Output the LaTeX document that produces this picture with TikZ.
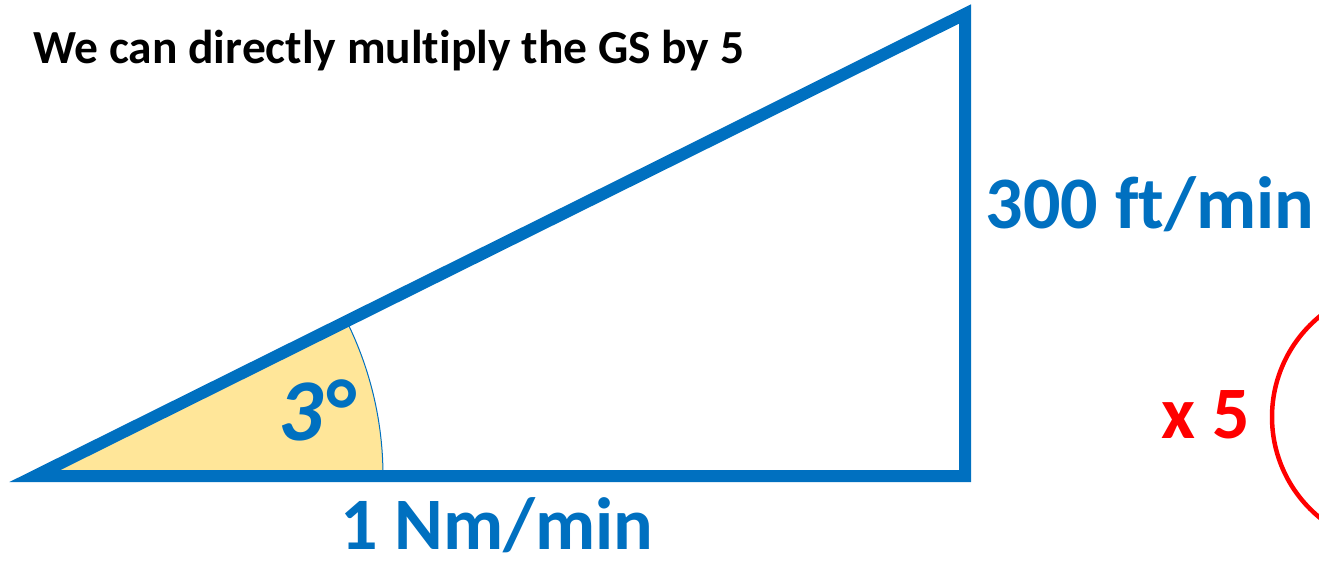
\documentclass[tikz,border=0pt]{standalone}
\usepackage{fontspec}
\setmainfont{Carlito}[Ligatures=NoCommon]
\usetikzlibrary{calc}
\definecolor{tblue}{HTML}{0070C0}
\definecolor{tyellow}{HTML}{FFE699}
\definecolor{tred}{HTML}{FF0000}
\tikzset{
  lbl/.style={text=tblue, font=\fontsize{74}{80}\selectfont\bfseries, inner sep=0pt, anchor=base},
  edge/.style={draw=tblue, line width=12pt, line join=miter},
}
\begin{document}
\begin{tikzpicture}[x=1pt,y=-1pt]
\clip (0,0) rectangle (1319,564);
\fill[white] (0,0) rectangle (1319,564);
\coordinate (A) at (35,476);
\coordinate (B) at (965,476);
\coordinate (C) at (965,14);
% angle sector
\fill[tyellow] (A) -- ++(348,0) arc[start angle=0, end angle=-26.42, radius=348] -- cycle;
\draw[tblue, line width=1pt] ($(A)+(348,0)$) arc[start angle=0, end angle=-26.42, radius=348];
% triangle
\draw[edge] (A) -- (B) -- (C) -- cycle;
% texts
\node[anchor=base west, inner sep=0pt, font=\fontsize{47.5}{50}\selectfont\bfseries] (title) at (33,64) {We can directly multiply the GS by 5};
\node[lbl] (base) at (497,549) {1 Nm/min};
\node[lbl] (side) at (1150,228) {300 ft/min};
\node[lbl, font=\fontsize{88}{90}\selectfont\bfseries\itshape] (ang) at (316,440) {3°};
\node[lbl, text=tred] (times) at (1206,438) {x 5};
% red bracket circle
\coordinate (O) at (1402,417);
\draw[tred, line width=4.5pt] (O) circle[radius=130];
\end{tikzpicture}
\end{document}
